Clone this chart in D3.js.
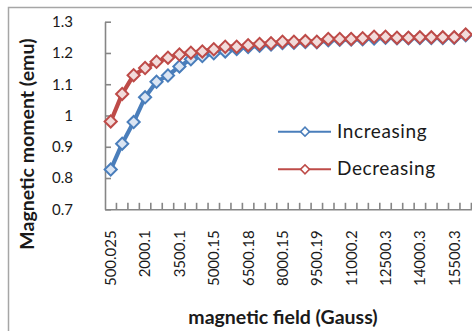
<!DOCTYPE html>
<html>
<head>
<meta charset="utf-8">
<script src="https://cdn.jsdelivr.net/npm/d3@7"></script>
<style>
  body { margin: 0; background: #fff; }
  svg { display: block; }
  text { font-family: Lato, "Open Sans", sans-serif; fill: #1a1a1a; }
</style>
</head>
<body>
<svg id="chart" width="472" height="331"></svg>
<script>
// Applied field steps (Gauss) used as categories
const fieldLabels = [
  "500.025", "1000.05", "1500.07", "2000.1", "2500.1", "3000.1", "3500.1", "4000.12",
  "4500.13", "5000.15", "5500.16", "6000.17", "6500.18", "7000.16", "7500.15", "8000.15",
  "8500.17", "9000.18", "9500.19", "10000.2", "10500.2", "11000.2", "11500.2", "12000.3",
  "12500.3", "13000.3", "13500.3", "14000.3", "14500.3", "15000.3", "15500.3", "16000.3"
];

// Magnetic moment (emu) on the increasing sweep
const increasing = [
  0.827, 0.910, 0.979, 1.058, 1.108, 1.128, 1.157, 1.180,
  1.190, 1.199, 1.205, 1.213, 1.219, 1.223, 1.227, 1.232,
  1.233, 1.235, 1.234, 1.241, 1.242, 1.243, 1.244, 1.246,
  1.249, 1.247, 1.247, 1.248, 1.248, 1.248, 1.249, 1.257
];

// Magnetic moment (emu) on the decreasing sweep
const decreasing = [
  0.981, 1.069, 1.129, 1.152, 1.172, 1.185, 1.195, 1.201,
  1.205, 1.212, 1.220, 1.220, 1.225, 1.229, 1.231, 1.236,
  1.236, 1.238, 1.236, 1.245, 1.245, 1.245, 1.247, 1.252,
  1.252, 1.249, 1.249, 1.250, 1.250, 1.250, 1.250, 1.259
];

const yTicks = [0.7, 0.8, 0.9, 1, 1.1, 1.2, 1.3];
const labelEvery = 3;
const seriesNames = ["Increasing", "Decreasing"];

const series = [
  { name: seriesNames[0], values: increasing, stroke: "#4a7ebb", fill: "#dbe5f3" },
  { name: seriesNames[1], values: decreasing, stroke: "#be4b48", fill: "#f2dcdb" }
];

const svg = d3.select("#chart");
const W = 472, H = 331;
const plot = { left: 105, top: 21.7, bottom: 209.3, band: 11.45 };

// chart frame
svg.append("rect")
  .attr("x", 8.5).attr("y", 7.5)
  .attr("width", W).attr("height", H)
  .attr("fill", "none").attr("stroke", "#a6a6a6").attr("stroke-width", 1.5);

const x = d3.scaleBand()
  .domain(fieldLabels)
  .range([plot.left, plot.left + plot.band * fieldLabels.length])
  .paddingInner(0).paddingOuter(0);

const y = d3.scaleLinear().domain([0.7, 1.3]).range([plot.bottom, plot.top]);

const axisColor = "#868686";

// y axis with inward ticks
const yAxis = svg.append("g")
  .attr("transform", `translate(${plot.left},0)`)
  .call(d3.axisLeft(y).tickValues(yTicks).tickSize(-6).tickSizeOuter(0)
    .tickPadding(32).tickFormat(d => String(d)));
yAxis.select(".domain").attr("stroke", axisColor).attr("stroke-width", 1.6);
yAxis.selectAll(".tick line").attr("stroke", axisColor).attr("stroke-width", 1.6);
yAxis.selectAll(".tick text").style("font-size", "15px").attr("fill", "#1a1a1a");

// x axis: labels on every third category, ticks on category boundaries
const xAxis = svg.append("g")
  .attr("transform", `translate(0,${plot.bottom})`)
  .call(d3.axisBottom(x)
    .tickValues(fieldLabels.filter((d, i) => i % labelEvery === 0))
    .tickSize(0).tickSizeOuter(0));
xAxis.select(".domain").attr("stroke", axisColor).attr("stroke-width", 1.6);
xAxis.selectAll(".tick text")
  .attr("transform", "rotate(-90)")
  .attr("text-anchor", "end")
  .attr("x", -21).attr("y", 0).attr("dy", "0.36em")
  .style("font-size", "15px").attr("fill", "#1a1a1a");

xAxis.selectAll(".boundary")
  .data(fieldLabels)
  .join("line")
  .attr("class", "boundary")
  .attr("x1", d => x(d) + x.bandwidth())
  .attr("x2", d => x(d) + x.bandwidth())
  .attr("y1", 0).attr("y2", -6.5)
  .attr("stroke", axisColor).attr("stroke-width", 1.6);

// axis titles
svg.append("text")
  .attr("transform", "translate(34,144) rotate(-90)")
  .attr("text-anchor", "middle")
  .style("font-size", "19.5px").style("font-weight", "bold")
  .text("Magnetic moment (emu)");

svg.append("text")
  .attr("x", 283).attr("y", 324)
  .attr("text-anchor", "middle")
  .style("font-size", "19.5px").style("font-weight", "bold")
  .text("magnetic field (Gauss)");

// series
const diamond = d3.symbol(d3.symbolSquare, 74);
const line = d3.line()
  .x((d, i) => x(fieldLabels[i]) + x.bandwidth() / 2)
  .y(d => y(d));

series.forEach(s => {
  const g = svg.append("g");
  g.append("path")
    .datum(s.values)
    .attr("d", line)
    .attr("fill", "none")
    .attr("stroke", s.stroke)
    .attr("stroke-width", 4.2)
    .attr("stroke-linejoin", "round");
  g.selectAll("path.marker")
    .data(s.values)
    .join("path")
    .attr("class", "marker")
    .attr("d", diamond)
    .attr("transform", (d, i) =>
      `translate(${x(fieldLabels[i]) + x.bandwidth() / 2},${y(d)}) rotate(45)`)
    .attr("fill", s.fill)
    .attr("stroke", s.stroke)
    .attr("stroke-width", 2);
});

// legend
const legend = svg.append("g");
const legendRows = [131.7, 169.3];
series.forEach((s, i) => {
  const row = legend.append("g").attr("transform", `translate(0,${legendRows[i]})`);
  row.append("line")
    .attr("x1", 278).attr("x2", 331)
    .attr("stroke", s.stroke).attr("stroke-width", 2);
  row.append("path")
    .attr("d", d3.symbol(d3.symbolSquare, 40)())
    .attr("transform", "translate(305,0) rotate(45)")
    .attr("fill", "#fff")
    .attr("stroke", s.stroke).attr("stroke-width", 1.6);
  row.append("text")
    .attr("x", 337).attr("y", 6)
    .style("font-size", "19px")
    .style("letter-spacing", "0.6px")
    .text(s.name);
});
</script>
</body>
</html>
